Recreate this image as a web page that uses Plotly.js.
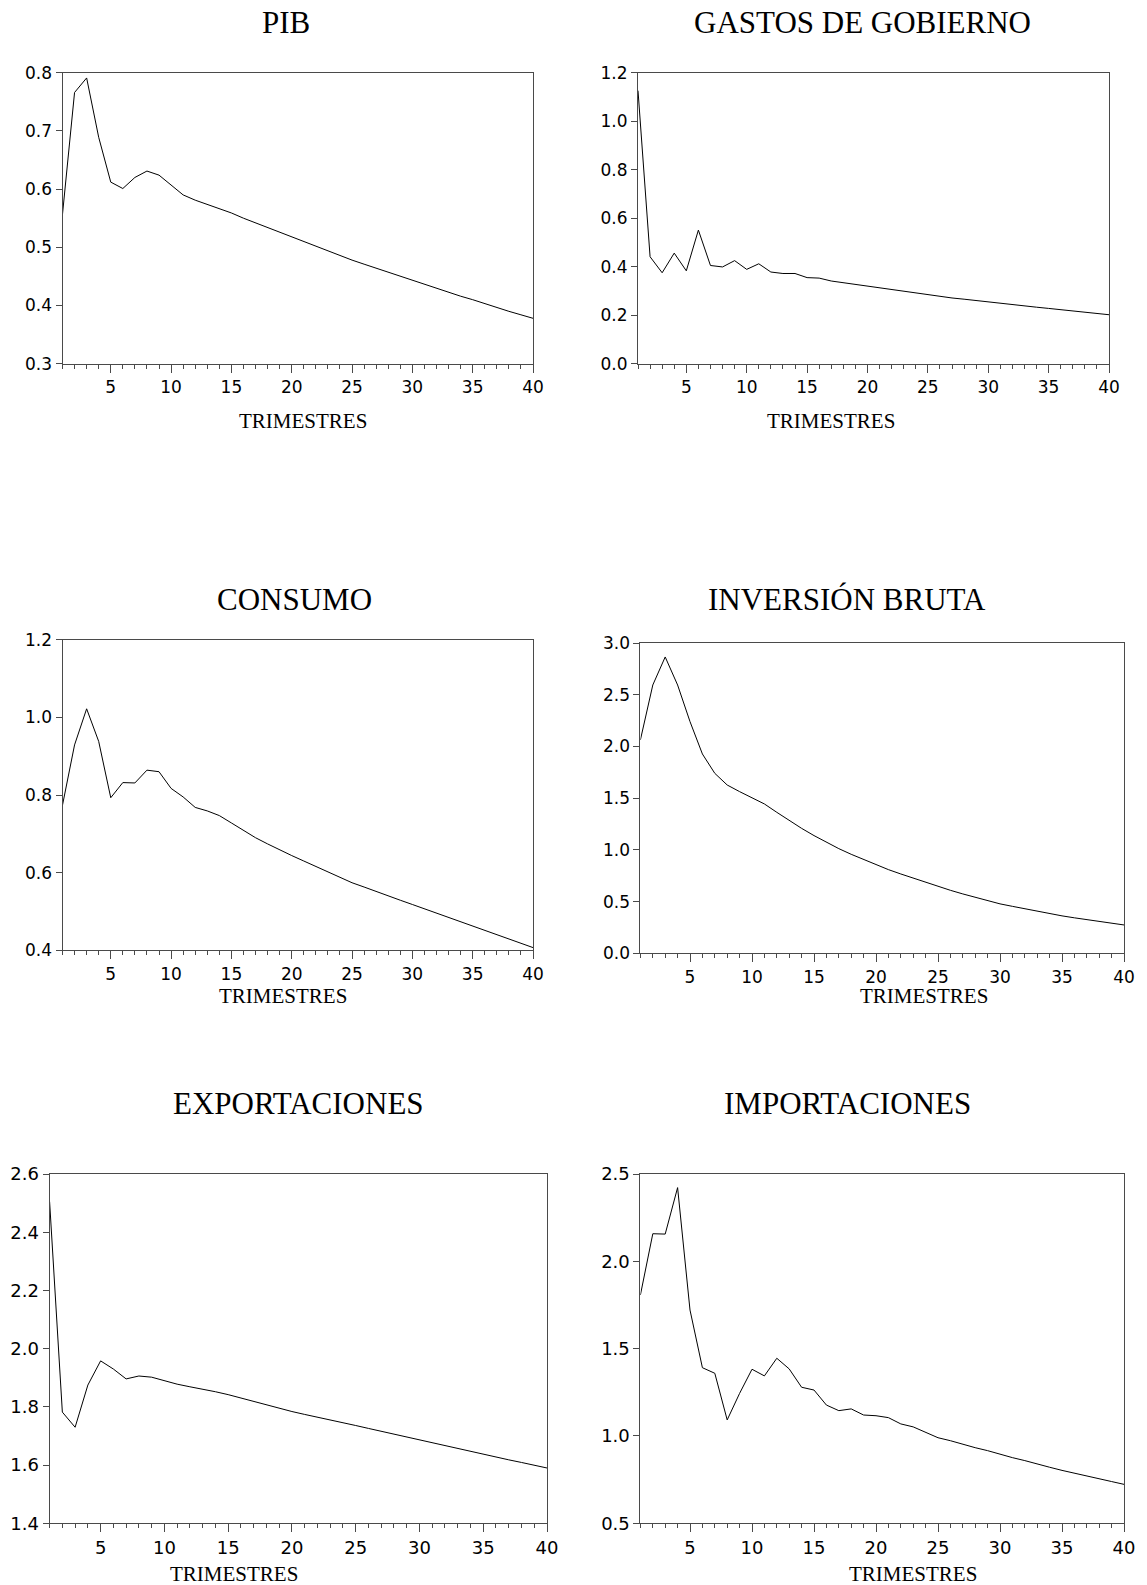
<!DOCTYPE html>
<html>
<head>
<meta charset="utf-8">
<script src="https://cdn.plot.ly/plotly-3.0.1.min.js"></script>
<style>
  html, body { margin: 0; padding: 0; background: #ffffff; }
  #chart { width: 1147px; height: 1585px; }
</style>
</head>
<body>
<div id="chart"></div>
<script>
// Impulse responses over 40 quarters (trimestres)
const trimestres = [1,2,3,4,5,6,7,8,9,10,11,12,13,14,15,16,17,18,19,20,
                    21,22,23,24,25,26,27,28,29,30,31,32,33,34,35,36,37,38,39,40];

const pib = [0.557,0.766,0.791,0.689,0.612,0.601,0.620,0.631,0.624,0.607,
             0.590,0.581,0.574,0.566,0.559,0.550,0.542,0.533,0.525,0.517,
             0.509,0.501,0.494,0.486,0.478,0.471,0.464,0.457,0.450,0.443,
             0.436,0.429,0.423,0.416,0.410,0.403,0.397,0.390,0.384,0.378];

const gastosGobierno = [1.126,0.441,0.375,0.456,0.383,0.551,0.405,0.399,0.425,0.389,
                        0.412,0.378,0.372,0.372,0.355,0.353,0.341,0.334,0.327,0.318,
                        0.311,0.304,0.298,0.292,0.283,0.277,0.271,0.266,0.260,0.254,
                        0.248,0.243,0.238,0.233,0.228,0.223,0.218,0.213,0.208,0.202];

const consumo = [0.774,0.929,1.022,0.938,0.793,0.832,0.831,0.864,0.860,0.817,
                 0.795,0.768,0.759,0.747,0.728,0.709,0.690,0.674,0.658,0.644,
                 0.630,0.616,0.602,0.588,0.574,0.563,0.551,0.540,0.529,0.518,
                 0.507,0.495,0.484,0.473,0.462,0.451,0.440,0.429,0.418,0.407];

const inversionBruta = [2.063,2.594,2.865,2.594,2.240,1.927,1.740,1.627,1.563,1.505,
                        1.444,1.363,1.283,1.208,1.138,1.073,1.012,0.957,0.906,0.854,
                        0.809,0.767,0.726,0.685,0.645,0.609,0.574,0.541,0.509,0.478,
                        0.454,0.430,0.406,0.383,0.362,0.343,0.325,0.307,0.290,0.274];

const exportaciones = [2.505,1.782,1.730,1.875,1.958,1.930,1.896,1.906,1.902,1.889,
                       1.878,1.869,1.861,1.852,1.842,1.830,1.819,1.807,1.796,1.784,
                       1.774,1.765,1.755,1.745,1.736,1.726,1.716,1.706,1.696,1.686,
                       1.676,1.666,1.657,1.647,1.637,1.628,1.618,1.609,1.599,1.590];

const importaciones = [1.807,2.158,2.156,2.422,1.721,1.391,1.359,1.092,1.244,1.382,
                       1.344,1.445,1.384,1.279,1.263,1.177,1.145,1.155,1.120,1.116,
                       1.105,1.069,1.052,1.023,0.990,0.973,0.952,0.933,0.916,0.895,
                       0.876,0.859,0.838,0.821,0.803,0.786,0.771,0.754,0.739,0.723];

const xTickVals = [5,10,15,20,25,30,35,40];
const xTitle = 'TRIMESTRES';

const W = 1147, H = 1585;

// Panel frames in page pixels: [left, right, top, bottom]
const panels = [
  { name: 'PIB',                y: pib,            yr: [0.3, 0.8], dt: 0.1, box: [62.5, 533, 72.7, 363.7],
    title: [286, 22.5],   xt: [303, 420.5], fs: 17 },
  { name: 'GASTOS DE GOBIERNO', y: gastosGobierno, yr: [0.0, 1.2], dt: 0.2, box: [638, 1109, 72.7, 363.7],
    title: [862.5, 22.5], xt: [831, 420.5], fs: 17 },
  { name: 'CONSUMO',            y: consumo,        yr: [0.4, 1.2], dt: 0.2, box: [62.5, 533, 639.7, 950.3],
    title: [294.5, 599.5], xt: [282.5, 995.5], fs: 17 },
  { name: 'INVERSIÓN BRUTA',    y: inversionBruta, yr: [0.0, 3.0], dt: 0.5, box: [640.4, 1124, 643, 953.3],
    title: [847, 599.5],   xt: [924, 995.5],   fs: 17 },
  { name: 'EXPORTACIONES',      y: exportaciones,  yr: [1.4, 2.6], dt: 0.2, box: [49.6, 547, 1174, 1523.3],
    title: [298, 1103],    xt: [234, 1574],  fs: 18 },
  { name: 'IMPORTACIONES',      y: importaciones,  yr: [0.5, 2.5], dt: 0.5, box: [640.4, 1124, 1174, 1523.3],
    title: [847, 1103],    xt: [913, 1574],  fs: 18 }
];

const frameColor = '#4a4a4a';
const traces = [];
const layout = {
  width: W, height: H,
  margin: { l: 0, r: 0, t: 0, b: 0 },
  paper_bgcolor: '#ffffff',
  plot_bgcolor: '#ffffff',
  showlegend: false,
  annotations: []
};

panels.forEach((p, i) => {
  const n = i + 1;
  const xa = 'xaxis' + (n === 1 ? '' : n);
  const ya = 'yaxis' + (n === 1 ? '' : n);
  const [l, r, t, b] = p.box;

  traces.push({
    type: 'scatter', mode: 'lines',
    x: trimestres, y: p.y,
    xaxis: 'x' + (n === 1 ? '' : n), yaxis: 'y' + (n === 1 ? '' : n),
    line: { color: '#000000', width: 1 },
    hoverinfo: 'skip'
  });

  const tickFont = { family: 'DejaVu Sans, Verdana, sans-serif', size: p.fs, color: '#000000' };

  layout[xa] = {
    domain: [l / W, r / W],
    anchor: 'y' + (n === 1 ? '' : n),
    range: [1, 40],
    tickmode: 'array', tickvals: xTickVals,
    ticks: 'outside', ticklen: 8, tickwidth: 1, tickcolor: frameColor,
    minor: { tickmode: 'linear', tick0: 0, dtick: 1, ticks: 'outside', ticklen: 4,
             tickwidth: 1, tickcolor: frameColor, showgrid: false },
    showgrid: false, zeroline: false,
    showline: true, mirror: true, linecolor: frameColor, linewidth: 1,
    tickfont: tickFont,
    fixedrange: true
  };
  layout[ya] = {
    domain: [1 - b / H, 1 - t / H],
    anchor: 'x' + (n === 1 ? '' : n),
    range: p.yr,
    tickmode: 'linear', tick0: p.yr[0], dtick: p.dt, tickformat: '.1f',
    ticks: 'outside', ticklen: 6, tickwidth: 1, tickcolor: frameColor,
    showgrid: false, zeroline: false,
    showline: true, mirror: true, linecolor: frameColor, linewidth: 1,
    tickfont: tickFont,
    fixedrange: true
  };

  layout.annotations.push({
    text: p.name, xref: 'paper', yref: 'paper',
    x: p.title[0] / W, y: 1 - p.title[1] / H,
    xanchor: 'center', yanchor: 'middle', showarrow: false,
    font: { family: 'Liberation Serif, Times New Roman, serif', size: 31, color: '#000000' }
  });
  layout.annotations.push({
    text: xTitle, xref: 'paper', yref: 'paper',
    x: p.xt[0] / W, y: 1 - p.xt[1] / H,
    xanchor: 'center', yanchor: 'middle', showarrow: false,
    font: { family: 'Liberation Serif, Times New Roman, serif', size: 21, color: '#000000' }
  });
});

Plotly.newPlot('chart', traces, layout, { staticPlot: true, displayModeBar: false });
</script>
</body>
</html>
